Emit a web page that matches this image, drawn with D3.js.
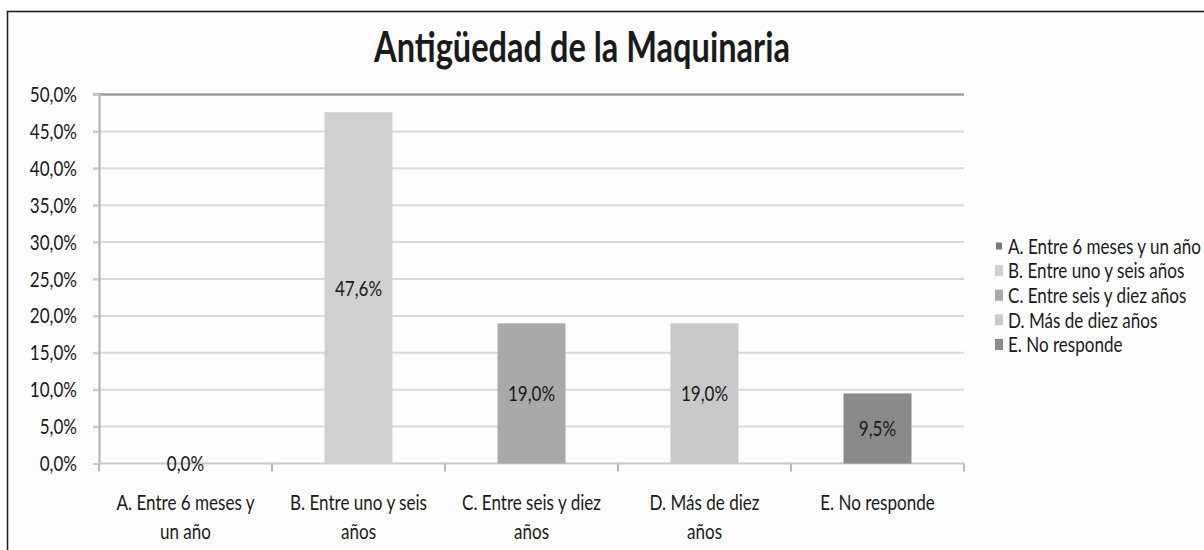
<!DOCTYPE html>
<html><head><meta charset="utf-8">
<script src="https://cdn.jsdelivr.net/npm/d3@7"></script>
<style>
html,body{margin:0;padding:0;background:#fff;}
svg{display:block;}
text{font-family:Lato,"Open Sans",sans-serif;fill:#1a1a1a;}
</style></head>
<body>
<svg id="chart" width="1204" height="550"></svg>
<script>
const title = "Antigüedad de la Maquinaria";
const categories = ["A. Entre 6 meses y un año","B. Entre uno y seis años","C. Entre seis y diez años","D. Más de diez años","E. No responde"];
const axisLabelLines = [["A. Entre 6 meses y","un año"],["B. Entre uno y seis","años"],["C. Entre seis y diez","años"],["D. Más de diez","años"],["E. No responde"]];
const values = [0.0, 47.6, 19.0, 19.0, 9.5];
const valueLabels = ["0,0%","47,6%","19,0%","19,0%","9,5%"];
const yTicks = [0,5,10,15,20,25,30,35,40,45,50];
const colors = ["#7a7a7a","#d0d0d0","#a9a9a9","#c9c9c9","#8a8a8a"];

(function(){
const K = 0.775;     // horizontal squeeze of the lettering
const FS = 22;       // base font size
const svg = d3.select("#chart");
svg.append("rect").attr("x",7.5).attr("y",11.5).attr("width",1300).attr("height",600)
  .attr("fill","#fdfdfd").attr("stroke","#222").attr("stroke-width",1.6);

const pL=99, pR=964, pT=94.5, pB=463.5;
const x = d3.scaleBand().domain(categories).range([pL,pR]).padding(0);
const y = d3.scaleLinear().domain([0,50]).range([pB,pT]);

function label(parent, tx, ty, str, anchor, size, weight){
  const g = parent.append("g").attr("transform",`translate(${tx},${ty}) scale(${K},1)`);
  return g.append("text").attr("text-anchor",anchor||"middle").attr("font-size",size||FS)
    .attr("font-weight",weight||"normal").text(str);
}

svg.append("g").selectAll("line").data(yTicks.filter(t=>t>0)).join("line")
  .attr("x1",pL-6).attr("x2",pR).attr("y1",d=>y(d)).attr("y2",d=>y(d))
  .attr("stroke",d=>d===50?"#a0a0a0":"#d9d9d9").attr("stroke-width",d=>d===50?2.5:2);

const yAxis = d3.axisLeft(y).tickValues(yTicks).tickSize(6).tickPadding(16)
  .tickFormat(d=>d3.format(".1f")(d).replace(".",",")+"%");
const gy = svg.append("g").attr("transform",`translate(${pL},0)`).call(yAxis);
gy.attr("font-family",null).attr("font-size",null);
gy.select(".domain").attr("stroke","#b0b0b0").attr("stroke-width",2);
gy.selectAll(".tick line").attr("stroke","#c8c8c8").attr("stroke-width",2);
gy.selectAll(".tick text").attr("font-size",FS).attr("fill","#1a1a1a")
  .attr("x",-22/K).attr("transform",`scale(${K},1)`);

svg.append("line").attr("x1",pL).attr("x2",pR).attr("y1",pB).attr("y2",pB)
  .attr("stroke","#c8c8c8").attr("stroke-width",2);
const bounds = categories.map(c=>x(c)).concat([x(categories[categories.length-1])+x.bandwidth()]);
svg.append("g").selectAll("line").data(bounds).join("line")
  .attr("x1",d=>d).attr("x2",d=>d).attr("y1",pB).attr("y2",pB+8)
  .attr("stroke","#b8b8b8").attr("stroke-width",2);

const bw = x.bandwidth()*0.393;
svg.append("g").selectAll("rect").data(values).join("rect")
  .attr("x",(d,i)=>x(categories[i])+x.bandwidth()/2-bw/2)
  .attr("width",bw)
  .attr("y",d=>y(d)).attr("height",d=>pB-y(d))
  .attr("fill",(d,i)=>colors[i]);

const gv = svg.append("g");
values.forEach((v,i)=>{
  label(gv, x(categories[i])+x.bandwidth()/2, y(v/2), valueLabels[i]).attr("dy","0.35em");
});

const gc = svg.append("g");
axisLabelLines.forEach((lines,i)=>{
  lines.forEach((ln,j)=>{
    label(gc, x(categories[i])+x.bandwidth()/2, 510 + j*29, ln);
  });
});

label(svg, 582, 62, title, "middle", 42, "bold");

const gl = svg.append("g");
categories.forEach((c,i)=>{
  const cy = 246 + i*24.6;
  if(i===0) gl.append("rect").attr("x",996).attr("y",cy-3.5).attr("width",6).attr("height",7).attr("fill",colors[i]);
  else gl.append("rect").attr("x",995).attr("y",cy-5.5).attr("width",8).attr("height",11).attr("fill",colors[i]);
  label(gl, 1008, cy, c, "start").attr("dy","0.35em");
});
})();
</script>
</body></html>
